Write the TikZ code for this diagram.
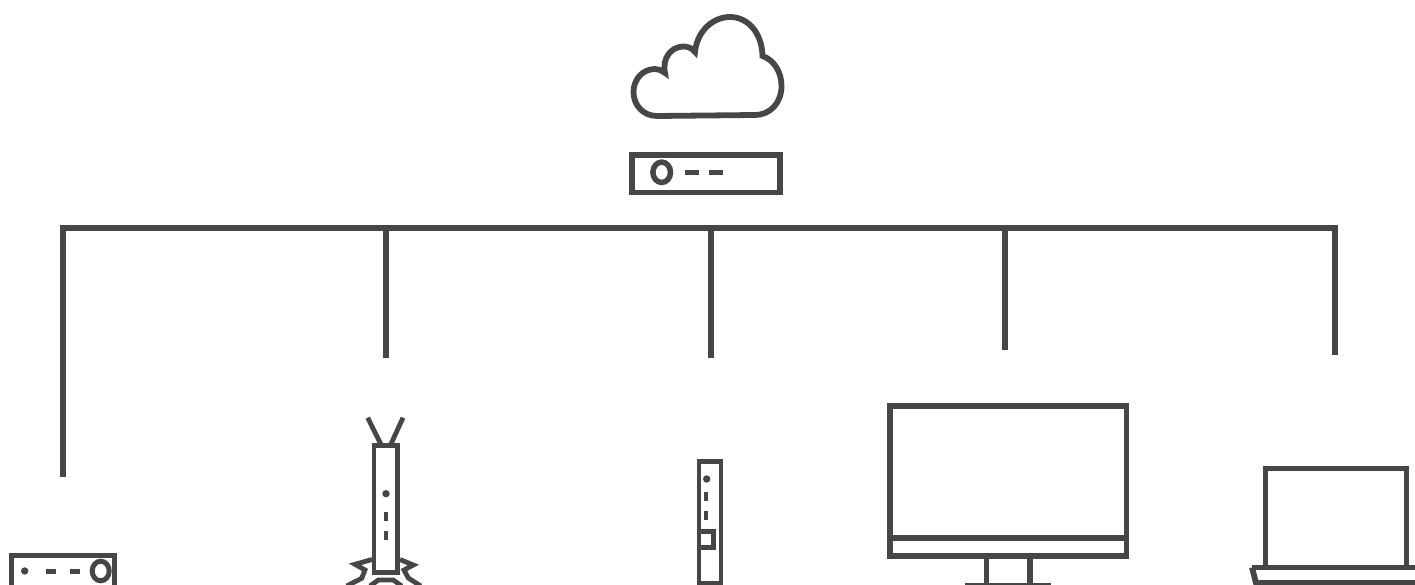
\documentclass[tikz,border=0pt]{standalone}
\definecolor{ink}{HTML}{464646}
\tikzset{
  line/.style={draw=ink,line width=#1,line join=miter},
  line/.default=5.8pt,
  blob/.style={fill=ink,draw=none}
}
\begin{document}
\begin{tikzpicture}[x=1pt,y=-1pt]
\useasboundingbox (0,0) rectangle (1415,585);
\clip (0,0) rectangle (1415,585);
% cloud
\draw[line] (657,116) .. controls (643,116) and (633.5,105) .. (633.5,92)
  .. controls (633.5,79) and (643,69) .. (655,69) .. controls (658,69) and (661,70) .. (665,73)
  .. controls (662,58) and (671,47) .. (683,46.5) .. controls (688,46.5) and (692,48) .. (695,52)
  .. controls (697,31) and (713,17) .. (730,17) .. controls (748,17) and (762,33) .. (762.5,56)
  .. controls (774,60) and (781.5,72) .. (781.5,86) .. controls (781.5,103) and (770,115) .. (755,115)
  -- cycle;
% modem
\draw[line] (632,155) rectangle (780,192.5);
\draw[line=5.5pt] (661.7,172.3) ellipse [x radius=8.8,y radius=10.2];
\fill[blob] (685,170) rectangle (699,175.5);
\fill[blob] (709,170) rectangle (723,175.5);
% bus
\coordinate (b1) at (63,228);
\coordinate (b5) at (1335,228);
\coordinate (e1) at (63,477);
\coordinate (e5) at (1335,355);
\draw[line] (e1) -- (b1) -- (b5) -- (e5);
\coordinate (b2) at (386,228);
\coordinate (e2) at (386,358);
\coordinate (b3) at (711,228);
\coordinate (e3) at (711,358);
\coordinate (b4) at (1005,225);
\coordinate (e4) at (1005,350);
\draw[line] (b2) -- (e2);
\draw[line] (b3) -- (e3);
\draw[line] (b4) -- (e4);
% left device
\draw[line=4.8pt] (11.4,555.7) rectangle (114.6,600);
\fill[blob] (24.7,571) circle (3.7);
\fill[blob] (46,568.5) rectangle (56,573.5);
\fill[blob] (70,568.5) rectangle (80,573.5);
\draw[line=5pt] (100.7,571) ellipse [x radius=8.5,y radius=9.8];
% access point
\draw[line=4.8pt] (374,445.4) rectangle (397.6,572.6);
\draw[line=4.8pt] (367.7,417.7) -- (380.7,444);
\draw[line=4.8pt] (403,417.7) -- (391,444);
\fill[blob] (386,493.7) circle (3.7);
\fill[blob] (384,512) rectangle (388.4,521);
\fill[blob] (384,531) rectangle (388.4,540);
\draw[line=4.8pt] (372,559.5) -- (355,564.3) -- (365,570) -- (361.7,578.3) -- (346.7,586);
\draw[line=4.8pt] (400,559.5) -- (413.3,565) -- (404,570) -- (408.3,578) -- (420.7,586);
\draw[line=4.8pt] (370,586) -- (378.3,580) -- (393.3,580) -- (401.7,586);
% tower
\draw[line=4.8pt] (699,461.4) rectangle (721,583);
\fill[blob] (706.7,479) circle (3.7);
\fill[blob] (704.3,492) rectangle (708.3,501);
\fill[blob] (704.3,511) rectangle (708.3,520);
\draw[line=4.8pt] (699,531.5) rectangle (713.5,547.5);
% monitor
\draw[line] (890.2,406.2) rectangle (1126.4,555.6);
\draw[line] (890.2,538) -- (1126.4,538);
\draw[line=5.2pt] (986.5,556) -- (986.5,584);
\draw[line=5.2pt] (1030,556) -- (1030,584);
\draw[line=3pt] (965,584) -- (1051,584);
% laptop
\draw[line] (1265.5,570) -- (1265.5,468.4) -- (1406.5,468.4) -- (1406.5,570);
\draw[line] (1252,567.5) -- (1430,567.5);
\draw[line] (1252,567.5) -- (1256,583) -- (1430,583);
\end{tikzpicture}
\end{document}
